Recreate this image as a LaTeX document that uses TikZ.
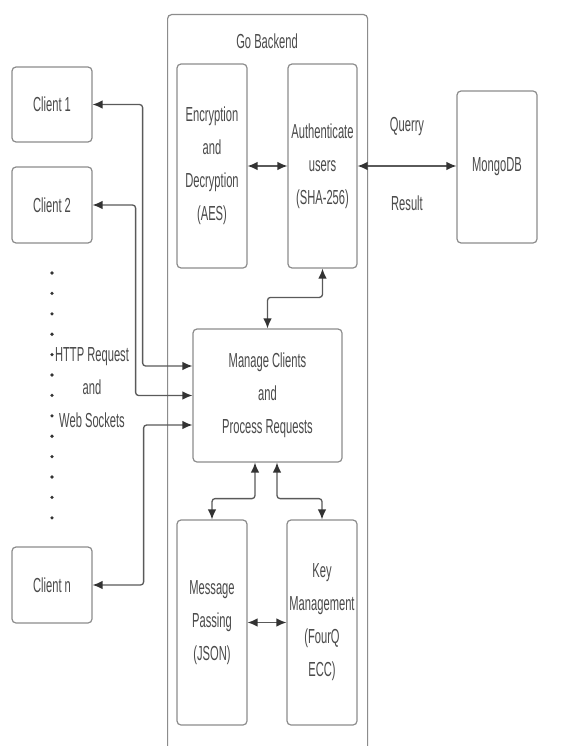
\documentclass[tikz,border=0pt]{standalone}
\usepackage{fontspec}
\setmainfont{Liberation Sans}
\usetikzlibrary{arrows.meta,calc}
\newcommand{\nt}[1]{\scalebox{0.55}[1]{#1}}
\definecolor{boxc}{HTML}{8C8C8C}
\definecolor{linec}{HTML}{5A5A5A}
\definecolor{tipc}{HTML}{333333}
\definecolor{txtc}{HTML}{4A4A4A}
\begin{document}
\begin{tikzpicture}[x=1pt,y=-1pt,
  box/.style={draw=boxc, line width=1.2pt, rounded corners=4pt, inner sep=0pt, align=center, text=txtc, font=\fontsize{20.3}{33}\selectfont},
  lbl/.style={inner sep=0pt, align=center, text=txtc, font=\fontsize{20.3}{33}\selectfont},
  dbl/.style={draw=linec, line width=1.3pt, rounded corners=3pt, {Latex[length=10pt,width=8.5pt,color=tipc]}-{Latex[length=10pt,width=8.5pt,color=tipc]}},
]
\useasboundingbox (0,0) rectangle (565,746);
\fill[white] (0,0) rectangle (565,746);
\clip (0,0) rectangle (565,746);

% container
\node[draw=boxc, line width=1.2pt, rounded corners=4pt, minimum width=200pt, minimum height=760pt, anchor=north west, inner sep=0pt] (backend) at (167,14) {};
\node[lbl] (title) at (267,41) {\nt{Go Backend}};

% clients
\node[box, minimum width=80pt, minimum height=75pt] (c1) at (52,104.5) {\nt{Client 1}};
\node[box, minimum width=80pt, minimum height=76pt] (c2) at (52,205) {\nt{Client 2}};
\node[box, minimum width=80pt, minimum height=76pt] (cn) at (52,585) {\nt{Client n}};

% dots and label
\foreach \i in {0,...,12} \fill[tipc] (52,273+\i*20.4) circle (1.8);
\node[lbl] (http) at (92,388) {\nt{HTTP Request}\\\nt{and}\\\nt{Web Sockets}};

% backend boxes
\node[box, minimum width=70pt, minimum height=204pt] (enc) at (212,166) {\nt{Encryption}\\\nt{and}\\\nt{Decryption}\\\nt{(AES)}};
\node[box, minimum width=69pt, minimum height=204pt] (auth) at (322.5,166) {\nt{Authenticate}\\\nt{users}\\\nt{(SHA-256)}};
\node[box, minimum width=149pt, minimum height=133pt] (manage) at (267.5,395.5) {\nt{Manage Clients}\\\nt{and}\\\nt{Process Requests}};
\node[box, minimum width=70pt, minimum height=205pt] (msg) at (212,622.5) {\nt{Message}\\\nt{Passing}\\\nt{(JSON)}};
\node[box, minimum width=70pt, minimum height=205pt] (key) at (322,622.5) {\nt{Key}\\\nt{Management}\\\nt{(FourQ}\\\nt{ECC)}};

% database
\node[box, minimum width=80pt, minimum height=152pt] (mongo) at (497,167) {\nt{MongoDB}};
\node[lbl] (query) at (407,127) {\nt{Querry}};
\node[lbl] (result) at (407,203) {\nt{Result}};

% connectors
\draw[dbl] (c1.east) -- ++(50,0) |- ($(manage.west)+(0,-29.5)$);
\draw[dbl] (c2.east) -- ++(43,0) |- (manage.west);
\draw[dbl] (cn.east) -- ++(51,0) |- ($(manage.west)+(0,29.5)$);
\draw[dbl] (enc.east) -- (auth.west);
\draw[dbl] (auth.east) -- (auth.east -| mongo.west);
\draw[dbl] (manage.north) -- ++(0,-31) -| (auth.south);
\draw[dbl] ($(manage.south)+(-12.5,0)$) -- ++(0,36) -| (msg.north);
\draw[dbl] ($(manage.south)+(9.5,0)$) -- ++(0,36) -| (key.north);
\draw[dbl] (msg.east) -- (key.west);
\end{tikzpicture}
\end{document}
